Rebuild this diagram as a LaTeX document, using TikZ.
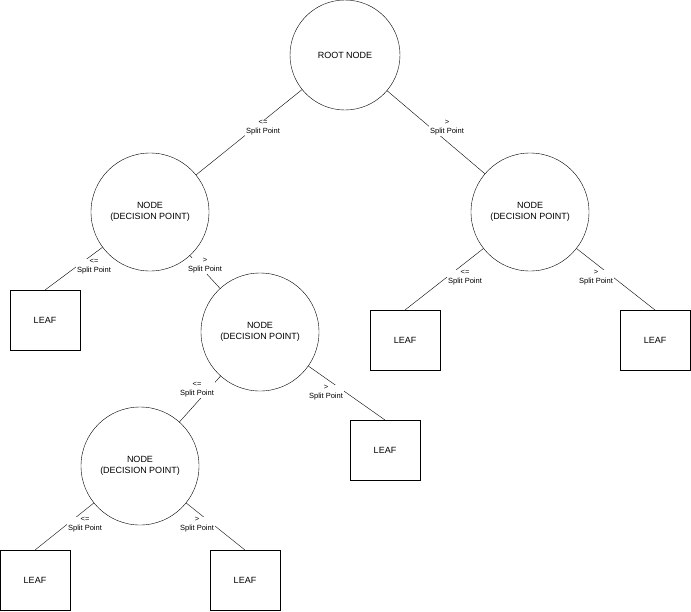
\documentclass[tikz,border=0pt]{standalone}
\usepackage{fontspec}
\setmainfont{Liberation Sans}
\begin{document}
\begin{tikzpicture}[x=1pt,y=-1pt,
  circ/.style={draw,circle,minimum size=118pt,inner sep=0pt,align=center,font=\fontsize{9}{11}\selectfont},
  leafbox/.style={draw,minimum width=70pt,minimum height=60pt,font=\fontsize{9}{11}\selectfont},
  lbl/.style={fill=white,align=center,inner sep=1pt,font=\fontsize{7.5}{9}\selectfont},
  edge/.style={draw,black}]
\useasboundingbox (0,0) rectangle (691,611);
\node[circ,minimum size=110pt] (root) at (345,55) {ROOT NODE};
\node[circ] (ln) at (150,212) {NODE\\(DECISION POINT)};
\node[circ] (rn) at (530,212) {NODE\\(DECISION POINT)};
\node[circ] (mn) at (260,332) {NODE\\(DECISION POINT)};
\node[circ] (bn) at (140,466) {NODE\\(DECISION POINT)};
\node[leafbox] (l1) at (45,320) {LEAF};
\node[leafbox] (l2) at (405,340) {LEAF};
\node[leafbox] (l3) at (655,340) {LEAF};
\node[leafbox] (l4) at (385,450) {LEAF};
\node[leafbox] (l5) at (35,580) {LEAF};
\node[leafbox] (l6) at (245,580) {LEAF};
\coordinate (t1) at (45,290);\coordinate (t2) at (405,310);\coordinate (t3) at (655,310);
\coordinate (t4) at (385,420);\coordinate (t5) at (35,550);\coordinate (t6) at (245,550);
\draw (root) -- (ln); \draw (root) -- (rn);
\draw (ln) -- (t1); \draw (ln) -- (mn);
\draw (rn) -- (t2); \draw (rn) -- (t3);
\draw (mn) -- (bn); \draw (mn) -- (t4);
\draw (bn) -- (t5); \draw (bn) -- (t6);
\node[lbl] (e1) at (263,128) {<=\\Split Point};
\node[lbl] (e2) at (447,128) {>\\Split Point};
\node[lbl] (e3) at (94,267) {<=\\Split Point};
\node[lbl] (e4) at (205,266) {>\\Split Point};
\node[lbl] (e5) at (465,278) {<=\\Split Point};
\node[lbl] (e6) at (596,278) {>\\Split Point};
\node[lbl] (e7) at (197,390) {<=\\Split Point};
\node[lbl] (e8) at (326,393) {>\\Split Point};
\node[lbl] (e9) at (85,525) {<=\\Split Point};
\node[lbl] (e10) at (197,525) {>\\Split Point};
\end{tikzpicture}
\end{document}
